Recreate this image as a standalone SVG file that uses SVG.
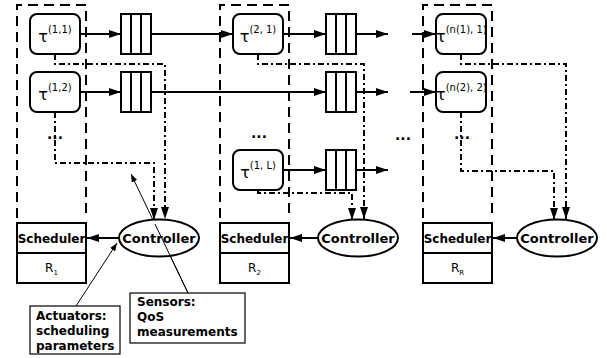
<svg xmlns="http://www.w3.org/2000/svg" width="607" height="358" viewBox="0 0 607 358">
<defs>
<marker id="ah" viewBox="0 0 12 8" refX="12" refY="4" markerWidth="12" markerHeight="8" markerUnits="userSpaceOnUse" orient="auto"><path d="M0,0 L12,4 L0,8 z" fill="#000"/></marker>
<marker id="ahs" viewBox="0 0 8 6" refX="8" refY="3" markerWidth="8" markerHeight="6" markerUnits="userSpaceOnUse" orient="auto"><path d="M0,0 L8,3 L0,6 z" fill="#000"/></marker>
<g id="queue"><rect x="0" y="0" width="30" height="40" fill="#fff" stroke="#000" stroke-width="2"/><line x1="10" y1="0" x2="10" y2="40" stroke="#000" stroke-width="2"/><line x1="20" y1="0" x2="20" y2="40" stroke="#000" stroke-width="2"/></g>
</defs>
<style>
.dash{fill:none;stroke:#000;stroke-width:2;stroke-dasharray:10,6}
.task{fill:#fff;stroke:#000;stroke-width:2}
.tau{font-family:"DejaVu Sans",sans-serif;font-size:16px;fill:#000}
.sup{font-size:10px}
.ln{fill:none;stroke:#000;stroke-width:2}
.dd{fill:none;stroke:#000;stroke-width:2;stroke-dasharray:6,3,2,3}
.ctl{fill:#fff;stroke:#000;stroke-width:2}
.bold{font-family:"DejaVu Sans",sans-serif;font-weight:bold;font-size:12px;fill:#000}
.ctxt{font-family:"DejaVu Sans",sans-serif;font-weight:bold;font-size:13px;fill:#000}
.norm{font-family:"DejaVu Sans",sans-serif;font-size:12px;fill:#000}
.dots{font-family:"DejaVu Sans",sans-serif;font-weight:bold;font-size:14px;fill:#000}
.thin{fill:none;stroke:#000;stroke-width:1}
.box{fill:#fff;stroke:#000;stroke-width:1.2}
</style>
<rect width="607" height="358" fill="#fff"/>

<g id="resources">
<path class="dash" d="M17,218 V5 H86 V218"/>
<path class="dash" d="M220,218 V5 H289 V218"/>
<path class="dash" d="M423,218 V5 H492 V218"/>
</g>

<g id="connectors">
<line class="ln" x1="80" y1="34" x2="121" y2="34" marker-end="url(#ah)"/>
<line class="ln" x1="80" y1="92" x2="121" y2="92" marker-end="url(#ah)"/>
<line class="ln" x1="151" y1="34" x2="233" y2="34" marker-end="url(#ah)"/>
<line class="ln" x1="151" y1="92" x2="326" y2="92" marker-end="url(#ah)"/>
<line class="ln" x1="283" y1="34" x2="326" y2="34" marker-end="url(#ah)"/>
<line class="ln" x1="283" y1="170" x2="326" y2="170" marker-end="url(#ah)"/>
<line class="ln" x1="356" y1="34" x2="388" y2="34" marker-end="url(#ah)"/>
<line class="ln" x1="356" y1="92" x2="388" y2="92" marker-end="url(#ah)"/>
<line class="ln" x1="356" y1="170" x2="388" y2="170" marker-end="url(#ah)"/>
<line class="ln" x1="412" y1="34" x2="436" y2="34" marker-end="url(#ah)"/>
<line class="ln" x1="410" y1="92" x2="436" y2="92" marker-end="url(#ah)"/>
<path class="dd" d="M55,54 V64 H165 V219" marker-end="url(#ah)"/>
<path class="dd" d="M55,112 V163 H154 V220" marker-end="url(#ah)"/>
<path class="dd" d="M258,54 V64 H364 V219" marker-end="url(#ah)"/>
<path class="dd" d="M258,190 V193 H352 V220" marker-end="url(#ah)"/>
<path class="dd" d="M461,54 V64 H566 V219" marker-end="url(#ah)"/>
<path class="dd" d="M461,112 V171 H554 V220" marker-end="url(#ah)"/>
<line class="ln" x1="119" y1="238" x2="87" y2="238" marker-end="url(#ah)"/>
<line class="ln" x1="318" y1="238" x2="290" y2="238" marker-end="url(#ah)"/>
<line class="ln" x1="517" y1="238" x2="493" y2="238" marker-end="url(#ah)"/>
<line class="thin" x1="76" y1="306" x2="117" y2="243" marker-end="url(#ahs)"/>
<line class="thin" x1="188" y1="293" x2="131" y2="174" marker-end="url(#ahs)"/>
</g>

<g id="task-1-1"><rect class="task" x="30" y="14" width="50" height="40" rx="7"/><text class="tau" x="55" y="42" text-anchor="middle">τ<tspan class="sup" dy="-9">(1,1)</tspan></text></g>
<g id="task-1-2"><rect class="task" x="30" y="72" width="50" height="40" rx="7"/><text class="tau" x="55" y="100" text-anchor="middle">τ<tspan class="sup" dy="-9">(1,2)</tspan></text></g>
<g id="task-2-1"><rect class="task" x="233" y="14" width="50" height="40" rx="7"/><text class="tau" x="258" y="42" text-anchor="middle">τ<tspan class="sup" dy="-9">(2, 1)</tspan></text></g>
<g id="task-1-L"><rect class="task" x="233" y="150" width="50" height="40" rx="7"/><text class="tau" x="258" y="178" text-anchor="middle">τ<tspan class="sup" dy="-9">(1, L)</tspan></text></g>
<g id="task-n1-1"><rect class="task" x="436" y="14" width="50" height="40" rx="7"/><text class="tau" x="436" y="42">τ<tspan class="sup" dy="-9">(n(1), 1)</tspan></text></g>
<g id="task-n2-2"><rect class="task" x="436" y="72" width="50" height="40" rx="7"/><text class="tau" x="436" y="100">τ<tspan class="sup" dy="-9">(n(2), 2)</tspan></text></g>

<g id="queue-1-1"><use href="#queue" x="121" y="14"/></g>
<g id="queue-1-2"><use href="#queue" x="121" y="72"/></g>
<g id="queue-2-1"><use href="#queue" x="326" y="14"/></g>
<g id="queue-2-2"><use href="#queue" x="326" y="72"/></g>
<g id="queue-2-3"><use href="#queue" x="326" y="150"/></g>

<g id="ellipsis">
<text class="dots" x="55" y="139" text-anchor="middle">...</text>
<text class="dots" x="259" y="138" text-anchor="middle">...</text>
<text class="dots" x="403" y="140" text-anchor="middle">...</text>
<text class="dots" x="462" y="139" text-anchor="middle">...</text>
</g>

<g id="scheduler-1"><rect x="17" y="223" width="69" height="60" fill="#fff" stroke="#000" stroke-width="2"/><line x1="17" y1="253" x2="86" y2="253" stroke="#000" stroke-width="2"/><text class="bold" x="51.5" y="243" text-anchor="middle">Scheduler</text><text class="norm" x="51.5" y="272" text-anchor="middle">R<tspan font-size="7" dy="3">1</tspan></text></g>
<g id="scheduler-2"><rect x="220" y="223" width="69" height="60" fill="#fff" stroke="#000" stroke-width="2"/><line x1="220" y1="253" x2="289" y2="253" stroke="#000" stroke-width="2"/><text class="bold" x="254.5" y="243" text-anchor="middle">Scheduler</text><text class="norm" x="254.5" y="272" text-anchor="middle">R<tspan font-size="7" dy="3">2</tspan></text></g>
<g id="scheduler-R"><rect x="423" y="223" width="69" height="60" fill="#fff" stroke="#000" stroke-width="2"/><line x1="423" y1="253" x2="492" y2="253" stroke="#000" stroke-width="2"/><text class="bold" x="457.5" y="243" text-anchor="middle">Scheduler</text><text class="norm" x="457.5" y="272" text-anchor="middle">R<tspan font-size="7" dy="3">R</tspan></text></g>

<g id="controller-1"><ellipse class="ctl" cx="159" cy="238" rx="40" ry="18.5"/><text class="ctxt" x="159" y="243" text-anchor="middle">Controller</text></g>
<g id="controller-2"><ellipse class="ctl" cx="358" cy="238" rx="40" ry="18.5"/><text class="ctxt" x="358" y="243" text-anchor="middle">Controller</text></g>
<g id="controller-R"><ellipse class="ctl" cx="557" cy="238" rx="40" ry="18.5"/><text class="ctxt" x="557" y="243" text-anchor="middle">Controller</text></g>

<line class="thin" x1="188" y1="293" x2="155" y2="224"/>

<g id="note-actuators"><rect class="box" x="30" y="306" width="90" height="48"/><text class="bold" x="36" y="320">Actuators:</text><text class="bold" x="36" y="335">scheduling</text><text class="bold" x="36" y="350">parameters</text></g>
<g id="note-sensors"><rect class="box" x="130" y="293" width="115" height="50"/><text class="bold" x="137" y="306">Sensors:</text><text class="bold" x="137" y="321">QoS</text><text class="bold" x="137" y="336">measurements</text></g>
</svg>
